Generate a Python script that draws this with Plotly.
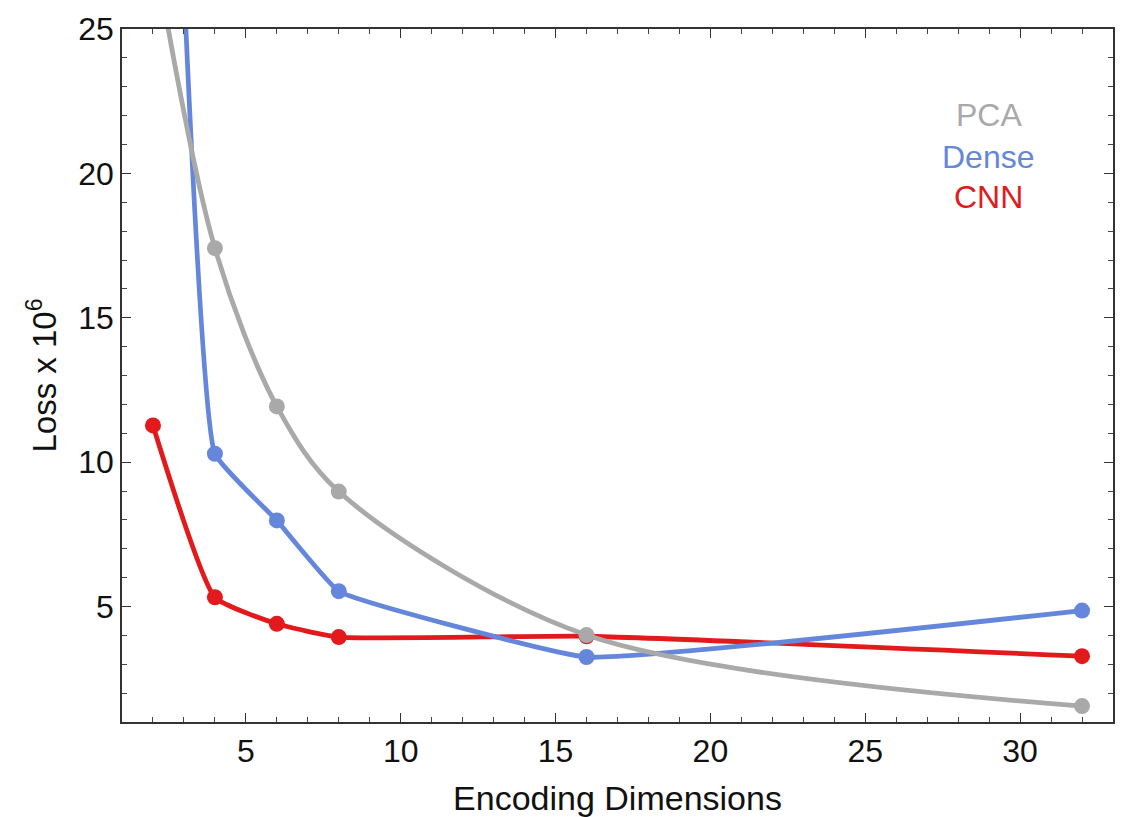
import plotly.graph_objects as go

# Encoding sizes and reconstruction losses (x 10^6)
dims = [2, 4, 6, 8, 16, 32]
pca_loss = [28.0, 17.41, 11.93, 8.98, 4.01, 1.55]
dense_loss = [55.0, 10.29, 7.98, 5.53, 3.25, 4.86]
cnn_loss = [11.27, 5.32, 4.40, 3.94, 3.97, 3.28]

series_names = ["PCA", "Dense", "CNN"]
series_colors = ["#a9a9a9", "#6587db", "#e31a1c"]
series_smoothing = [0.9, 0.3, 0.45]

FONT = "Liberation Sans, Arial, Helvetica, sans-serif"

fig = go.Figure()

# Draw CNN first, PCA last so PCA sits on top
series = list(zip(series_names, [pca_loss, dense_loss, cnn_loss],
                  series_colors, series_smoothing))
for name, vals, color, smooth in reversed(series):
    fig.add_trace(go.Scatter(
        x=dims, y=vals, name=name, mode="lines+markers",
        line=dict(color=color, width=4.8, shape="spline", smoothing=smooth),
        marker=dict(color=color, size=16),
        cliponaxis=True, showlegend=False,
    ))

# Text legend in the upper right
legend_y = [0.876, 0.816, 0.758]
for name, color, ly in zip(series_names, series_colors, legend_y):
    fig.add_annotation(
        x=0.8745, y=ly, xref="paper", yref="paper",
        text=name, showarrow=False, xanchor="center", yanchor="middle",
        font=dict(family=FONT, size=32, color=color),
    )

axis_common = dict(
    showline=True, linecolor="#333333", linewidth=1.5, mirror="allticks",
    ticks="inside", ticklen=9, tickwidth=1.2, tickcolor="#333333",
    showgrid=False, zeroline=False, automargin=False,
    tickfont=dict(family=FONT, size=32, color="#111111"),
    minor=dict(ticks="inside", ticklen=5, tickwidth=1, tickcolor="#444444",
               dtick=1, showgrid=False),
)

fig.update_xaxes(
    range=[1, 33], tick0=0, dtick=5, **axis_common,
    title=dict(text="Encoding Dimensions",
               font=dict(family=FONT, size=34, color="#111111"), standoff=18),
)
fig.update_yaxes(
    range=[1, 25], tick0=0, dtick=5, **axis_common,
    title=dict(text="Loss x 10<sup>6</sup>",
               font=dict(family=FONT, size=33, color="#111111"), standoff=12),
)

fig.update_layout(
    width=1123, height=817,
    margin=dict(l=122, r=10, t=29, b=95, autoexpand=False),
    paper_bgcolor="white", plot_bgcolor="white",
)

fig.write_html("out.html")
